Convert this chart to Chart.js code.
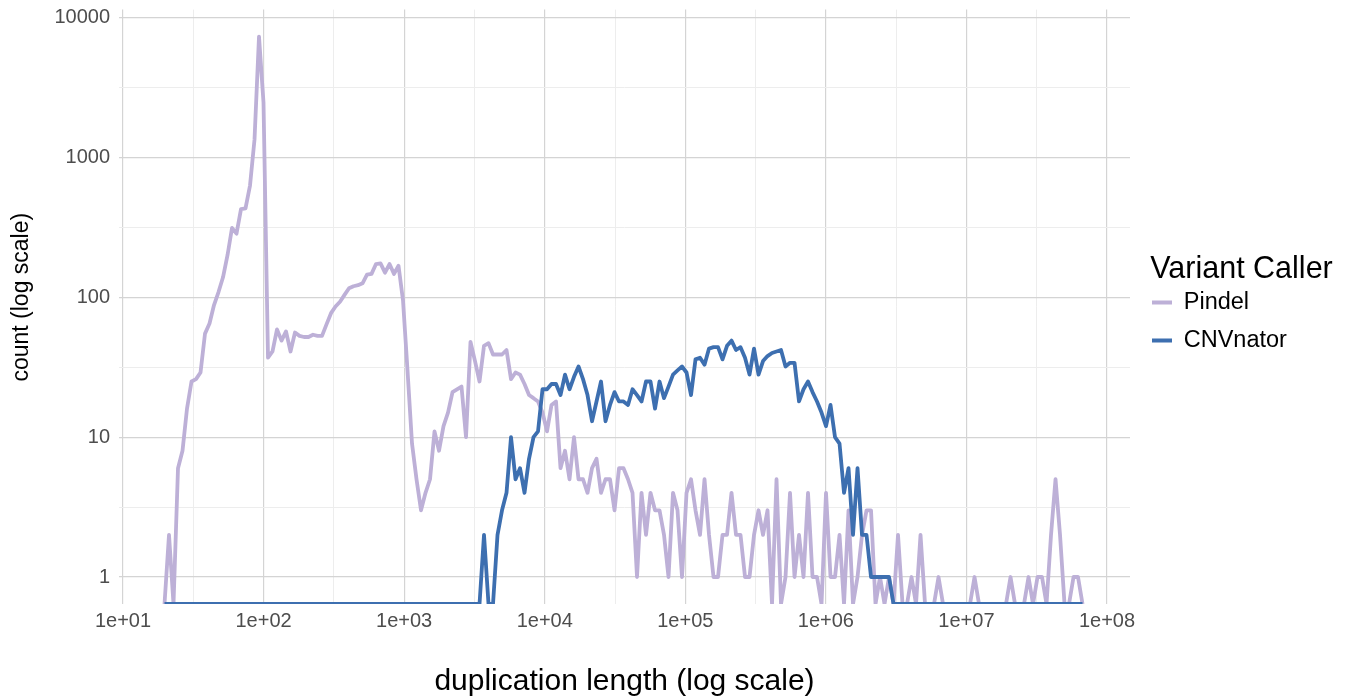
<!DOCTYPE html>
<html>
<head>
<meta charset="utf-8">
<script src="https://cdn.jsdelivr.net/npm/chart.js@4.4.1/dist/chart.umd.min.js"></script>
<style>
  html, body { margin: 0; padding: 0; background: #ffffff; }
  #wrap { width: 1350px; height: 698px; }
</style>
</head>
<body>
<div id="wrap"><canvas id="c" width="1350" height="698"></canvas></div>
<script>
// ---- data (histogram of duplication lengths, log10-spaced bins) ----
const firstBinLog10 = 1.2952;      // centre of first bin, log10(length)
const binWidthLog10 = 0.032013;    // bin width in log10 units

const pindelCounts = [
  0, 2, 0, 6, 8, 16, 25, 26, 29, 55,
  65, 88, 109, 139, 200, 313, 285, 427, 433, 630,
  1340, 7300, 2470, 37, 41, 59, 49, 57, 41, 56,
  53, 52, 52, 54, 53, 53, 64, 77, 86, 93,
  104, 116, 120, 122, 126, 145, 147, 173, 175, 150,
  173, 147, 168, 95, 30, 9, 5, 3, 4, 5,
  11, 8, 12, 15, 21, 22, 23, 10, 48, 35,
  25, 45, 47, 39, 39, 39, 42, 26, 29, 28,
  24, 20, 19, 18, 15, 11, 17, 18, 6, 8,
  5, 10, 5, 5, 4, 6, 7, 4, 5, 5,
  3, 6, 6, 5, 4, 1, 4, 2, 4, 3,
  3, 2, 1, 4, 3, 1, 4, 5, 3, 2,
  5, 2, 1, 1, 2, 2, 4, 2, 2, 1,
  1, 2, 3, 2, 3, 0, 5, 0, 1, 4,
  1, 2, 1, 4, 1, 1, 0, 4, 1, 1,
  2, 0, 3, 0, 1, 2, 3, 3, 0, 1,
  0, 1, 0, 2, 0, 0, 1, 0, 2, 0,
  0, 0, 1, 0, 0, 0, 0, 0, 0, 0,
  1, 0, 0, 0, 0, 0, 0, 0, 1, 0,
  0, 0, 1, 0, 1, 1, 0, 2, 5, 2,
  0, 0, 1, 1, 0
];

const cnvnatorCounts = [
  0, 0, 0, 0, 0, 0, 0, 0, 0, 0,
  0, 0, 0, 0, 0, 0, 0, 0, 0, 0,
  0, 0, 0, 0, 0, 0, 0, 0, 0, 0,
  0, 0, 0, 0, 0, 0, 0, 0, 0, 0,
  0, 0, 0, 0, 0, 0, 0, 0, 0, 0,
  0, 0, 0, 0, 0, 0, 0, 0, 0, 0,
  0, 0, 0, 0, 0, 0, 0, 0, 0, 0,
  0, 2, 0, 0, 2, 3, 4, 10, 5, 6,
  4, 7, 10, 11, 22, 22, 24, 24, 20, 28,
  22, 27, 32, 26, 20, 13, 18, 25, 13, 17,
  21, 18, 18, 17, 22, 20, 18, 25, 25, 16,
  25, 19, 23, 28, 30, 32, 29, 20, 36, 37,
  33, 43, 44, 44, 36, 45, 49, 42, 44, 37,
  28, 43, 28, 35, 38, 40, 41, 42, 32, 34,
  34, 18, 22, 25, 21, 18, 15, 12, 17, 10,
  9, 4, 6, 2, 6, 2, 2, 1, 1, 1,
  1, 1, 0, 0, 0, 0, 0, 0, 0, 0,
  0, 0, 0, 0, 0, 0, 0, 0, 0, 0,
  0, 0, 0, 0, 0, 0, 0, 0, 0, 0,
  0, 0, 0, 0, 0, 0, 0, 0, 0, 0,
  0, 0, 0, 0, 0
];

const seriesNames = ['Pindel', 'CNVnator'];
const xTickLabels = ['1e+01', '1e+02', '1e+03', '1e+04', '1e+05', '1e+06', '1e+07', '1e+08'];
const xTickLog10 = [1, 2, 3, 4, 5, 6, 7, 8];
const yTickLabels = ['1', '10', '100', '1000', '10000'];
const yTickLog10 = [0, 1, 2, 3, 4];

// ---- styling ----
const FONT = '"Liberation Sans", Arial, Helvetica, sans-serif';
const COL_PINDEL = '#bdb0d7';
const COL_CNV = '#3d6fb0';
const GRID_MAJOR = 'rgb(212,212,212)';
const GRID_MINOR = 'rgb(237,237,237)';
const X_MIN = 0.9715, X_MAX = 8.1636;
const Y_MIN = -0.1929, Y_MAX = 4.0571;
const LEGEND_W = 208;

const binCentres = pindelCounts.map((_, i) => firstBinLog10 + i * binWidthLog10);
const toPoints = counts => counts.map((c, i) => ({ x: binCentres[i], y: c > 0 ? Math.log10(c) : Y_MIN }));

const gridVals = (lo, hi) => { const a = []; for (let v = lo; v <= hi + 1e-9; v += 0.5) a.push(v); return a; };
const xGrid = gridVals(xTickLog10[0], xTickLog10[xTickLog10.length - 1]);
const yGrid = gridVals(yTickLog10[0], yTickLog10[yTickLog10.length - 1]).concat([Y_MAX]);
const isMajor = v => Math.abs(v - Math.round(v)) < 1e-6;
const isEdge = v => v > yTickLog10[yTickLog10.length - 1] + 0.01;

const legendWidthPlugin = {
  id: 'legendWidth',
  beforeLayout(chart) {
    const lg = chart.legend;
    if (lg && !lg.__fixedWidth) {
      const orig = lg.fit.bind(lg);
      lg.fit = function () { orig(); this.width = LEGEND_W; };
      lg.__fixedWidth = true;
    }
  }
};

new Chart(document.getElementById('c'), {
  type: 'scatter',
  data: {
    datasets: [
      { label: seriesNames[0], data: toPoints(pindelCounts), showLine: true,
        borderColor: COL_PINDEL, backgroundColor: COL_PINDEL, borderWidth: 3.8,
        pointRadius: 0, pointHoverRadius: 0, tension: 0, order: 1,
        borderJoinStyle: 'round', borderCapStyle: 'butt' },
      { label: seriesNames[1], data: toPoints(cnvnatorCounts), showLine: true,
        borderColor: COL_CNV, backgroundColor: COL_CNV, borderWidth: 3.8,
        pointRadius: 0, pointHoverRadius: 0, tension: 0, order: 0,
        borderJoinStyle: 'round', borderCapStyle: 'butt' }
    ]
  },
  options: {
    responsive: false,
    devicePixelRatio: 1,
    animation: false,
    events: [],
    layout: { padding: { top: 0, right: 4.5, bottom: 0, left: 0 } },
    scales: {
      x: {
        type: 'linear', position: 'bottom', min: X_MIN, max: X_MAX,
        afterBuildTicks: s => { s.ticks = xGrid.map(v => ({ value: v })); },
        afterFit: s => { s.height = 94; },
        ticks: {
          autoSkip: false, maxRotation: 0, minRotation: 0, padding: 5,
          color: '#4d4d4d', font: { family: FONT, size: 20 },
          callback: v => { const k = xTickLog10.indexOf(Math.round(v)); return isMajor(v) && k >= 0 ? xTickLabels[k] : ''; }
        },
        grid: {
          drawTicks: false,
          color: c => isMajor(c.tick.value) ? GRID_MAJOR : GRID_MINOR,
          lineWidth: c => isMajor(c.tick.value) ? 1.2 : 1
        },
        border: { display: false },
        title: { display: true, text: 'duplication length (log scale)', color: '#000',
                 font: { family: FONT, size: 30 }, padding: { top: 0, bottom: -2 } }
      },
      y: {
        type: 'linear', position: 'left', min: Y_MIN, max: Y_MAX,
        afterBuildTicks: s => { s.ticks = yGrid.map(v => ({ value: v })); },
        afterFit: s => { s.width = 119; },
        ticks: {
          autoSkip: false, padding: 9, color: '#4d4d4d',
          font: c => ({ family: FONT, size: (c.tick && isEdge(c.tick.value)) ? 1 : 20 }),
          callback: v => { const k = yTickLog10.indexOf(Math.round(v)); return isMajor(v) && k >= 0 ? yTickLabels[k] : ''; }
        },
        grid: {
          drawTicks: false,
          color: c => isEdge(c.tick.value) ? 'rgba(0,0,0,0)' : (isMajor(c.tick.value) ? GRID_MAJOR : GRID_MINOR),
          lineWidth: c => isMajor(c.tick.value) ? 1.2 : 1
        },
        border: { display: false },
        title: { display: true, text: '\u00a0\u00a0\u00a0count (log scale)', color: '#000',
                 font: { family: FONT, size: 23 }, padding: { top: 8.2, bottom: 0 } }
      },
      gap: {
        type: 'linear', position: 'right', display: true,
        afterFit: s => { s.width = 7.5; },
        ticks: { display: false },
        grid: { display: false, drawTicks: false },
        border: { display: false }
      }
    },
    plugins: {
      tooltip: { enabled: false },
      legend: {
        position: 'right', align: 'center', fullSize: false,
        title: { display: true, text: 'Variant Caller', color: '#000',
                 font: { family: FONT, size: 30.5 }, padding: { top: 7.4, bottom: -14.6 } },
        labels: {
          boxWidth: 20, boxHeight: 4, padding: 14.5, color: '#000',
          font: { family: FONT, size: 23.5 },
          generateLabels: chart => chart.data.datasets.map((ds, i) => ({
            text: ds.label, fillStyle: ds.borderColor, strokeStyle: ds.borderColor,
            lineWidth: 0, hidden: false, datasetIndex: i, fontColor: '#000'
          }))
        }
      }
    }
  },
  plugins: [legendWidthPlugin]
});
</script>
</body>
</html>
